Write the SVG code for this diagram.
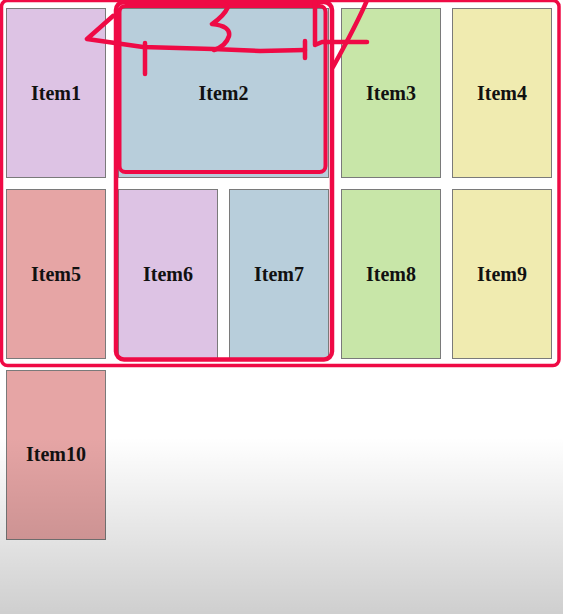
<svg xmlns="http://www.w3.org/2000/svg" width="563" height="614" viewBox="0 0 563 614">
<defs>
<style>
.box{stroke:#7a7a7a;stroke-width:1}
.lbl{font-family:"Liberation Serif","Times New Roman",serif;font-weight:bold;font-size:20px;fill:#111;text-anchor:middle}
.pur{fill:#ddc3e4}.blu{fill:#b8cedb}.grn{fill:#c8e6a8}.yel{fill:#f0ebb0}.pnk{fill:#e6a5a5}
.ink{fill:none;stroke:#ef0a45;stroke-linecap:round;stroke-linejoin:round}
</style>
<linearGradient id="shade" x1="0" y1="0" x2="0" y2="1">
<stop offset="0" stop-color="#000" stop-opacity="0"/>
<stop offset="1" stop-color="#000" stop-opacity="0.19"/>
</linearGradient>
</defs>
<rect width="563" height="614" fill="#fff"/>
<g id="item1"><rect class="box pur" x="6.5" y="8.5" width="99" height="169"/><text class="lbl" x="56" y="100">Item1</text></g>
<g id="item2"><rect class="box blu" x="118.5" y="8.5" width="210" height="169"/><text class="lbl" x="223.5" y="100">Item2</text></g>
<g id="item3"><rect class="box grn" x="341.5" y="8.5" width="99" height="169"/><text class="lbl" x="391" y="100">Item3</text></g>
<g id="item4"><rect class="box yel" x="452.5" y="8.5" width="99" height="169"/><text class="lbl" x="502" y="100">Item4</text></g>
<g id="item5"><rect class="box pnk" x="6.5" y="189.5" width="99" height="169"/><text class="lbl" x="56" y="281">Item5</text></g>
<g id="item6"><rect class="box pur" x="118.5" y="189.5" width="99" height="169"/><text class="lbl" x="168" y="281">Item6</text></g>
<g id="item7"><rect class="box blu" x="229.5" y="189.5" width="99" height="169"/><text class="lbl" x="279" y="281">Item7</text></g>
<g id="item8"><rect class="box grn" x="341.5" y="189.5" width="99" height="169"/><text class="lbl" x="391" y="281">Item8</text></g>
<g id="item9"><rect class="box yel" x="452.5" y="189.5" width="99" height="169"/><text class="lbl" x="502" y="281">Item9</text></g>
<g id="item10"><rect class="box pnk" x="6.5" y="370.5" width="99" height="169"/><text class="lbl" x="56" y="461">Item10</text></g>
<g id="connectors">
<rect class="ink" x="1.5" y="0.5" width="557.5" height="365" rx="6" stroke-width="3.5"/>
<rect class="ink" x="116" y="2" width="216" height="357.5" rx="8" stroke-width="4.5"/>
<rect class="ink" x="119.5" y="6" width="206" height="166" rx="6" stroke-width="4"/>
<path class="ink" stroke-width="4.5" d="M113,16 L87,39 L143,47 L213,49 L260,51 L305,50"/>
<path class="ink" stroke-width="4.5" d="M145,43 L145,74"/>
<path class="ink" stroke-width="4.5" d="M305,41 L305,58"/>
<path class="ink" stroke-width="4.5" d="M208,3 Q222,0 228,7 Q224,16 212,24 Q231,26 229,36 Q226,46 214,50"/>
<path class="ink" stroke-width="4.5" d="M315,2 L315,45 L322,42 L367,42"/>
<path class="ink" stroke-width="4.5" d="M368,-2 Q358,22 333,67"/>
</g>
<rect x="0" y="437" width="563" height="177" fill="url(#shade)"/>
</svg>
